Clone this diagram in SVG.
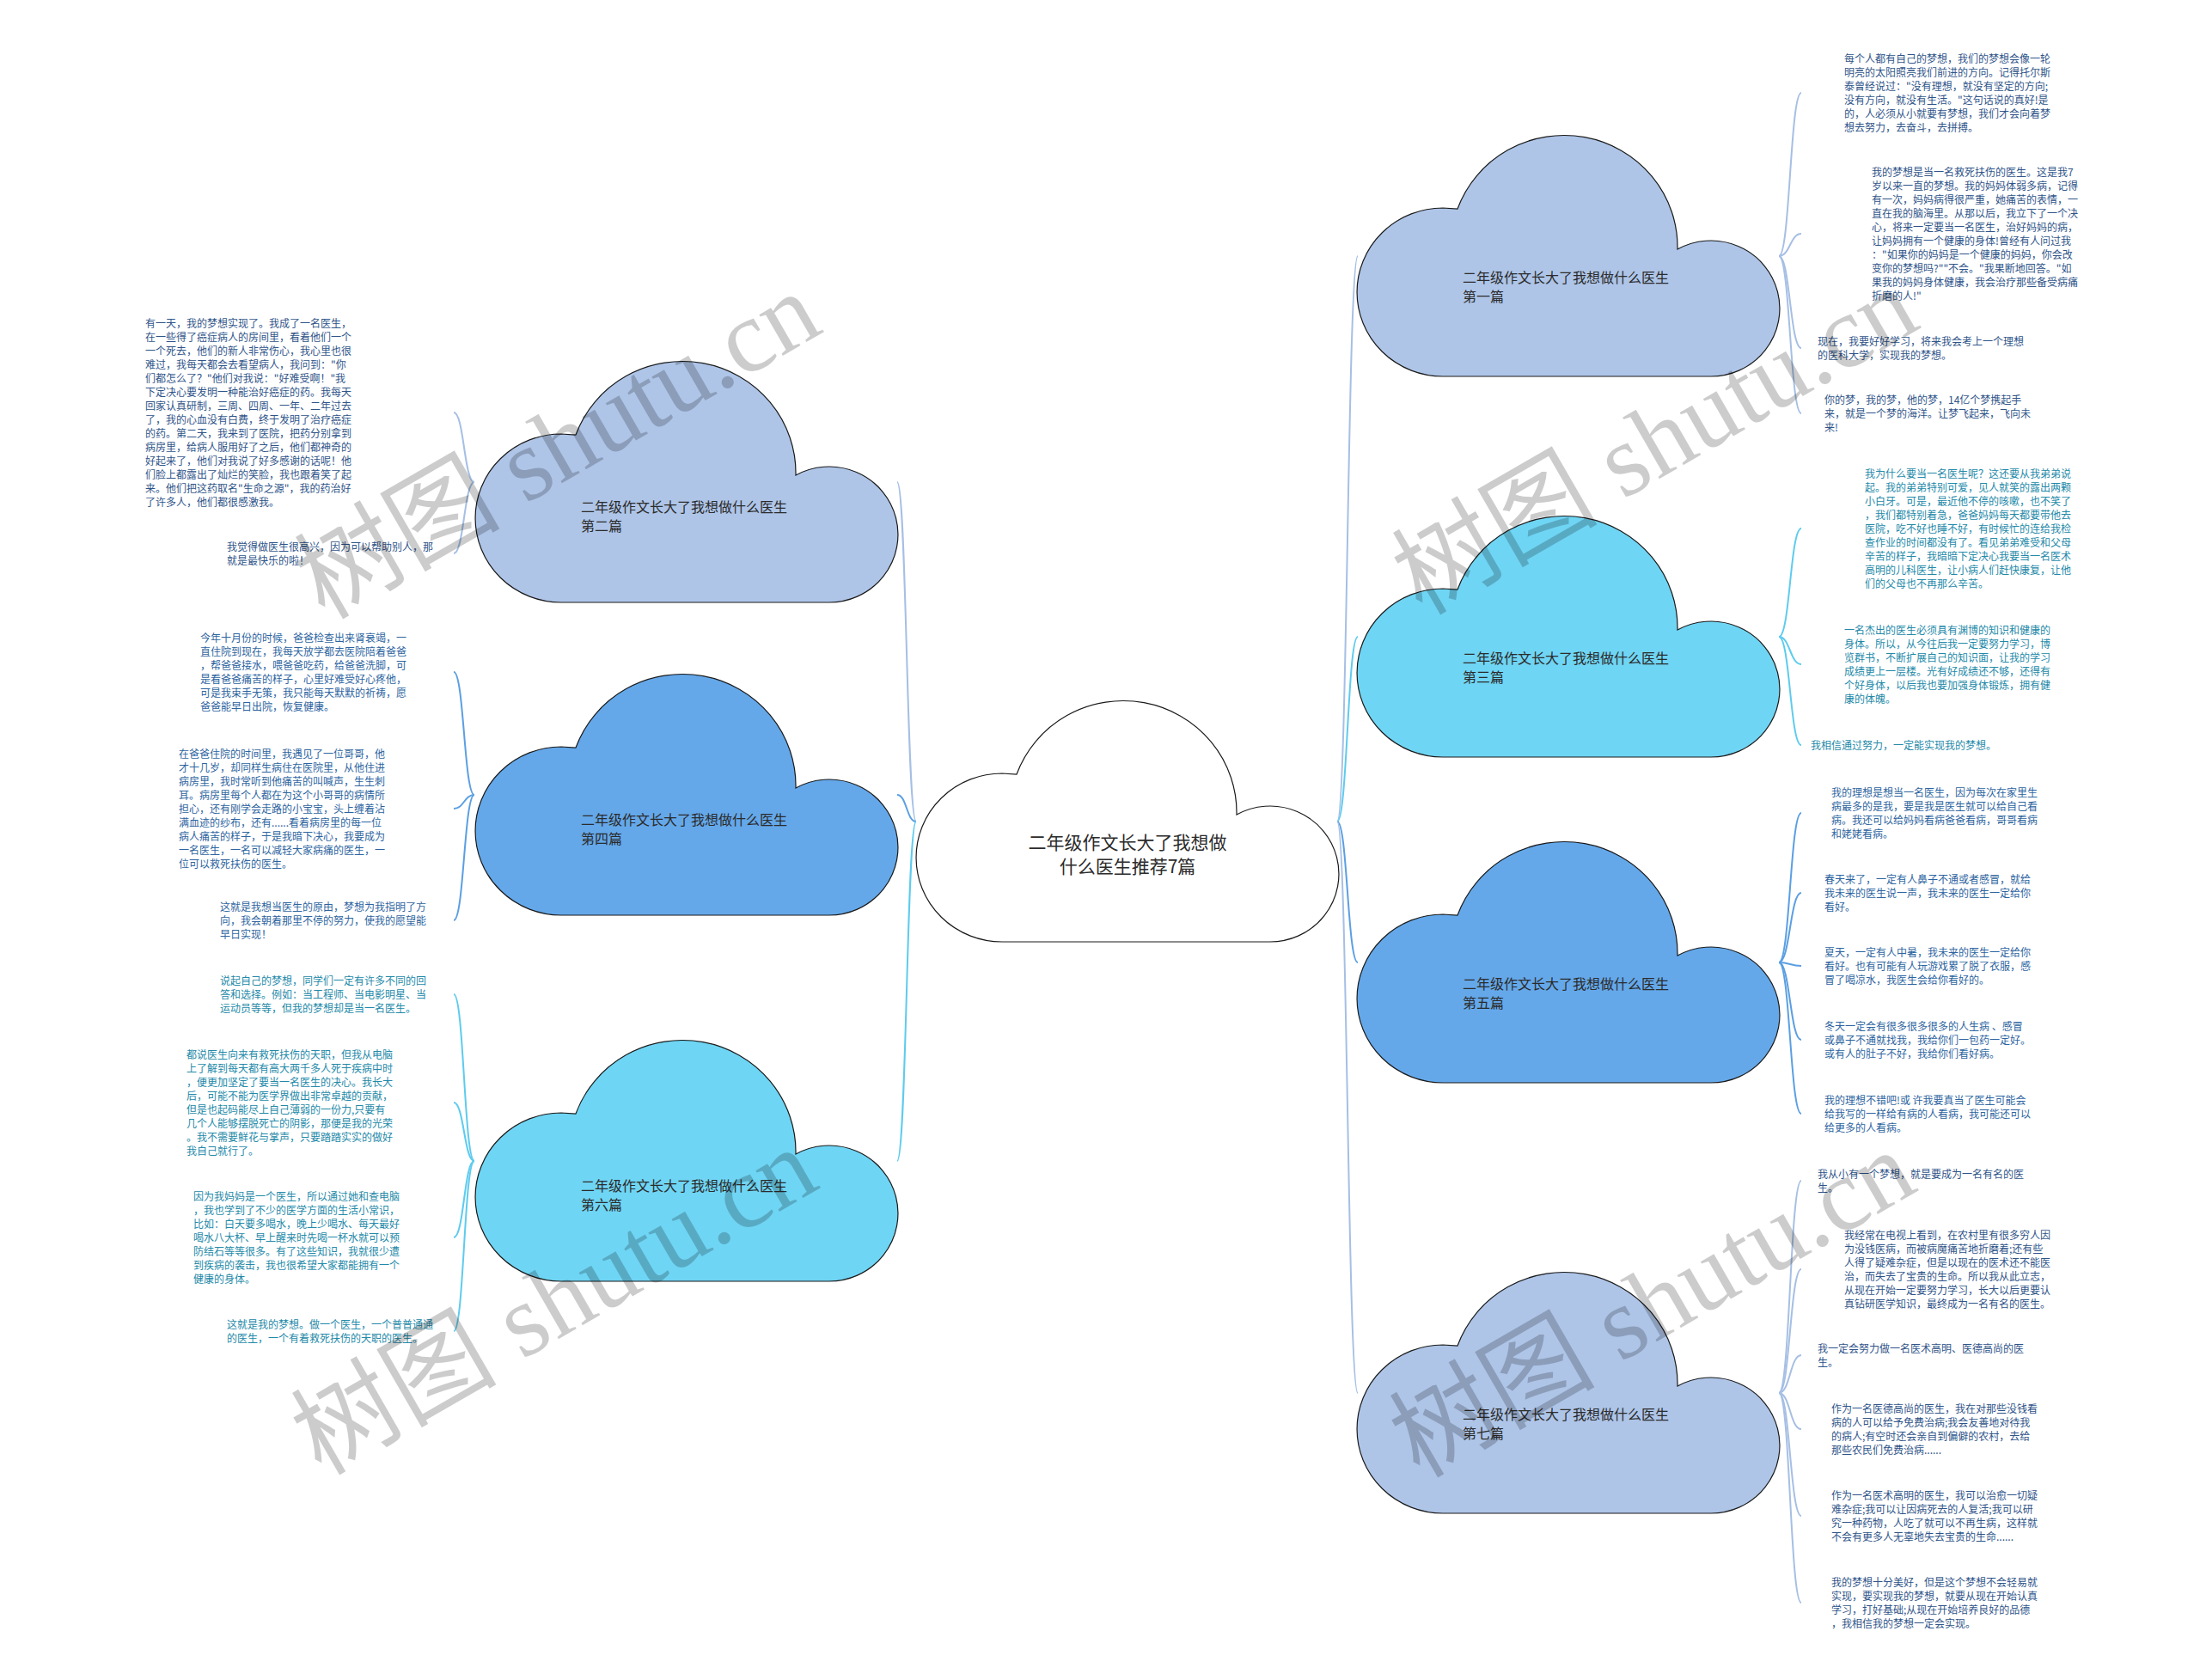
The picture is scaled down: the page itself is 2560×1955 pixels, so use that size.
<svg xmlns="http://www.w3.org/2000/svg" xmlns:xlink="http://www.w3.org/1999/xlink" width="2560" height="1955" viewBox="0 0 2560 1955">
<style>
.cl{stroke:#1a1a1a;stroke-width:1.2}
.fa{fill:#aec5e8}.fb{fill:#64a8ea}.fc{fill:#6fd5f4}.fw{fill:#ffffff}
.ct{font-family:"Noto Sans CJK SC","Noto Sans",sans-serif;font-size:16px;fill:#2b2b2b}
.cm{font-family:"Noto Sans CJK SC","Noto Sans",sans-serif;font-size:21px;fill:#2b2b2b;text-anchor:middle}
.tx{font-family:"Noto Sans CJK SC","Noto Sans",sans-serif;font-size:12px}
.ta{fill:#2f5489}.tb{fill:#2d64a0}.tc{fill:#2389a8}
.ln{fill:none;stroke-width:2}
.la{stroke:#a6bfe4}.lb{stroke:#5b9fe2}.lc{stroke:#5ecbee}
.wm{font-family:"Liberation Serif","Noto Sans CJK SC",serif;font-size:120px;fill:#000;fill-opacity:0.2;text-anchor:middle}
</style>
<defs>
<path id="cloud" d="M100,280 A100,98 0 0 1 100,84 L117,85 A132,130 0 0 1 373,132 A80,79 0 1 1 411,280 Z"/>
</defs>
<rect width="2560" height="1955" fill="#ffffff"/>
<g id="connectors">
<path class="ln la" d="M1066,956 C1055,956 1055,561 1044,561"/>
<path class="ln lb" d="M1066,956 C1055,956 1055,925 1044,925"/>
<path class="ln lc" d="M1066,956 C1055,956 1055,1351 1044,1351"/>
<path class="ln la" d="M1556,956 C1568,956 1568,298 1580,298"/>
<path class="ln lc" d="M1556,956 C1568,956 1568,741 1580,741"/>
<path class="ln lb" d="M1556,956 C1568,956 1568,1120 1580,1120"/>
<path class="ln la" d="M1556,956 C1568,956 1568,1621 1580,1621"/>
<path class="ln la" d="M552,561 C540,561 540,480 528,480"/>
<path class="ln la" d="M552,561 C540,561 540,644 528,644"/>
<path class="ln lb" d="M552,925 C540,925 540,782 528,782"/>
<path class="ln lb" d="M552,925 C540,925 540,941 528,941"/>
<path class="ln lb" d="M552,925 C540,925 540,1071 528,1071"/>
<path class="ln lc" d="M552,1351 C540,1351 540,1157 528,1157"/>
<path class="ln lc" d="M552,1351 C540,1351 540,1283 528,1283"/>
<path class="ln lc" d="M552,1351 C540,1351 540,1440 528,1440"/>
<path class="ln lc" d="M552,1351 C540,1351 540,1549 528,1549"/>
<path class="ln la" d="M2070,298 C2083,298 2083,108 2096,108"/>
<path class="ln la" d="M2070,298 C2083,298 2083,272 2096,272"/>
<path class="ln la" d="M2070,298 C2083,298 2083,405 2096,405"/>
<path class="ln la" d="M2070,298 C2083,298 2083,481 2096,481"/>
<path class="ln lc" d="M2070,741 C2083,741 2083,615 2096,615"/>
<path class="ln lc" d="M2070,741 C2083,741 2083,773 2096,773"/>
<path class="ln lc" d="M2070,741 C2083,741 2083,867 2096,867"/>
<path class="ln lb" d="M2070,1120 C2083,1120 2083,946 2096,946"/>
<path class="ln lb" d="M2070,1120 C2083,1120 2083,1039 2096,1039"/>
<path class="ln lb" d="M2070,1120 C2083,1120 2083,1124 2096,1124"/>
<path class="ln lb" d="M2070,1120 C2083,1120 2083,1210 2096,1210"/>
<path class="ln lb" d="M2070,1120 C2083,1120 2083,1296 2096,1296"/>
<path class="ln la" d="M2070,1621 C2083,1621 2083,1374 2096,1374"/>
<path class="ln la" d="M2070,1621 C2083,1621 2083,1477 2096,1477"/>
<path class="ln la" d="M2070,1621 C2083,1621 2083,1577 2096,1577"/>
<path class="ln la" d="M2070,1621 C2083,1621 2083,1663 2096,1663"/>
<path class="ln la" d="M2070,1621 C2083,1621 2083,1764 2096,1764"/>
<path class="ln la" d="M2070,1621 C2083,1621 2083,1865 2096,1865"/>
</g>
<g id="center">
<use xlink:href="#cloud" x="1066" y="816" class="cl fw"/>
<text class="cm" x="1312" y="988">二年级作文长大了我想做</text>
<text class="cm" x="1312" y="1016">什么医生推荐7篇</text>
</g>
<g id="topic1">
<use xlink:href="#cloud" x="1579" y="158" class="cl fa"/>
<text class="ct" x="1702" y="329">二年级作文长大了我想做什么医生</text>
<text class="ct" x="1702" y="351">第一篇</text>
</g>
<g id="topic2">
<use xlink:href="#cloud" x="553" y="421" class="cl fa"/>
<text class="ct" x="676" y="596">二年级作文长大了我想做什么医生</text>
<text class="ct" x="676" y="618">第二篇</text>
</g>
<g id="topic3">
<use xlink:href="#cloud" x="1579" y="601" class="cl fc"/>
<text class="ct" x="1702" y="772">二年级作文长大了我想做什么医生</text>
<text class="ct" x="1702" y="794">第三篇</text>
</g>
<g id="topic4">
<use xlink:href="#cloud" x="553" y="785" class="cl fb"/>
<text class="ct" x="676" y="960">二年级作文长大了我想做什么医生</text>
<text class="ct" x="676" y="982">第四篇</text>
</g>
<g id="topic5">
<use xlink:href="#cloud" x="1579" y="980" class="cl fb"/>
<text class="ct" x="1702" y="1151">二年级作文长大了我想做什么医生</text>
<text class="ct" x="1702" y="1173">第五篇</text>
</g>
<g id="topic6">
<use xlink:href="#cloud" x="553" y="1211" class="cl fc"/>
<text class="ct" x="676" y="1386">二年级作文长大了我想做什么医生</text>
<text class="ct" x="676" y="1408">第六篇</text>
</g>
<g id="topic7">
<use xlink:href="#cloud" x="1579" y="1481" class="cl fa"/>
<text class="ct" x="1702" y="1652">二年级作文长大了我想做什么医生</text>
<text class="ct" x="1702" y="1674">第七篇</text>
</g>
<g id="t2a"><text class="tx ta" x="169" y="381"><tspan x="169">有一天，我的梦想实现了。我成了一名医生，</tspan><tspan x="169" dy="16">在一些得了癌症病人的房间里，看着他们一个</tspan><tspan x="169" dy="16">一个死去，他们的新人非常伤心，我心里也很</tspan><tspan x="169" dy="16">难过，我每天都会去看望病人，我问到："你</tspan><tspan x="169" dy="16">们都怎么了？"他们对我说："好难受啊！"我</tspan><tspan x="169" dy="16">下定决心要发明一种能治好癌症的药。我每天</tspan><tspan x="169" dy="16">回家认真研制，三周、四周、一年、二年过去</tspan><tspan x="169" dy="16">了，我的心血没有白费，终于发明了治疗癌症</tspan><tspan x="169" dy="16">的药。第二天，我来到了医院，把药分别拿到</tspan><tspan x="169" dy="16">病房里，给病人服用好了之后，他们都神奇的</tspan><tspan x="169" dy="16">好起来了，他们对我说了好多感谢的话呢！他</tspan><tspan x="169" dy="16">们脸上都露出了灿烂的笑脸，我也跟着笑了起</tspan><tspan x="169" dy="16">来。他们把这药取名"生命之源"，我的药治好</tspan><tspan x="169" dy="16">了许多人，他们都很感激我。</tspan></text></g>
<g id="t2b"><text class="tx ta" x="264" y="641"><tspan x="264">我觉得做医生很高兴，因为可以帮助别人，那</tspan><tspan x="264" dy="16">就是最快乐的啦！</tspan></text></g>
<g id="t4a"><text class="tx tb" x="233" y="747"><tspan x="233">今年十月份的时候，爸爸检查出来肾衰竭，一</tspan><tspan x="233" dy="16">直住院到现在，我每天放学都去医院陪着爸爸</tspan><tspan x="233" dy="16">，帮爸爸接水，喂爸爸吃药，给爸爸洗脚，可</tspan><tspan x="233" dy="16">是看爸爸痛苦的样子，心里好难受好心疼他，</tspan><tspan x="233" dy="16">可是我束手无策，我只能每天默默的祈祷，愿</tspan><tspan x="233" dy="16">爸爸能早日出院，恢复健康。</tspan></text></g>
<g id="t4b"><text class="tx tb" x="208" y="882"><tspan x="208">在爸爸住院的时间里，我遇见了一位哥哥，他</tspan><tspan x="208" dy="16">才十几岁，却同样生病住在医院里，从他住进</tspan><tspan x="208" dy="16">病房里，我时常听到他痛苦的叫喊声，生生刺</tspan><tspan x="208" dy="16">耳。病房里每个人都在为这个小哥哥的病情所</tspan><tspan x="208" dy="16">担心，还有刚学会走路的小宝宝，头上缠着沾</tspan><tspan x="208" dy="16">满血迹的纱布，还有......看着病房里的每一位</tspan><tspan x="208" dy="16">病人痛苦的样子，于是我暗下决心，我要成为</tspan><tspan x="208" dy="16">一名医生，一名可以减轻大家病痛的医生，一</tspan><tspan x="208" dy="16">位可以救死扶伤的医生。</tspan></text></g>
<g id="t4c"><text class="tx tb" x="256" y="1060"><tspan x="256">这就是我想当医生的原由，梦想为我指明了方</tspan><tspan x="256" dy="16">向，我会朝着那里不停的努力，使我的愿望能</tspan><tspan x="256" dy="16">早日实现！</tspan></text></g>
<g id="t6a"><text class="tx tc" x="256" y="1146"><tspan x="256">说起自己的梦想，同学们一定有许多不同的回</tspan><tspan x="256" dy="16">答和选择。例如：当工程师、当电影明星、当</tspan><tspan x="256" dy="16">运动员等等，但我的梦想却是当一名医生。</tspan></text></g>
<g id="t6b"><text class="tx tc" x="217" y="1232"><tspan x="217">都说医生向来有救死扶伤的天职，但我从电脑</tspan><tspan x="217" dy="16">上了解到每天都有高大两千多人死于疾病中时</tspan><tspan x="217" dy="16">，便更加坚定了要当一名医生的决心。我长大</tspan><tspan x="217" dy="16">后，可能不能为医学界做出非常卓越的贡献，</tspan><tspan x="217" dy="16">但是也起码能尽上自己薄弱的一份力,只要有</tspan><tspan x="217" dy="16">几个人能够摆脱死亡的阴影，那便是我的光荣</tspan><tspan x="217" dy="16">。我不需要鲜花与掌声，只要踏踏实实的做好</tspan><tspan x="217" dy="16">我自己就行了。</tspan></text></g>
<g id="t6c"><text class="tx tc" x="225" y="1397"><tspan x="225">因为我妈妈是一个医生，所以通过她和查电脑</tspan><tspan x="225" dy="16">，我也学到了不少的医学方面的生活小常识，</tspan><tspan x="225" dy="16">比如：白天要多喝水，晚上少喝水、每天最好</tspan><tspan x="225" dy="16">喝水八大杯、早上醒来时先喝一杯水就可以预</tspan><tspan x="225" dy="16">防结石等等很多。有了这些知识，我就很少遭</tspan><tspan x="225" dy="16">到疾病的袭击，我也很希望大家都能拥有一个</tspan><tspan x="225" dy="16">健康的身体。</tspan></text></g>
<g id="t6d"><text class="tx tc" x="264" y="1546"><tspan x="264">这就是我的梦想。做一个医生，一个普普通通</tspan><tspan x="264" dy="16">的医生，一个有着救死扶伤的天职的医生。</tspan></text></g>
<g id="t1a"><text class="tx ta" x="2146" y="73"><tspan x="2146">每个人都有自己的梦想，我们的梦想会像一轮</tspan><tspan x="2146" dy="16">明亮的太阳照亮我们前进的方向。记得托尔斯</tspan><tspan x="2146" dy="16">泰曾经说过："没有理想，就没有坚定的方向;</tspan><tspan x="2146" dy="16">没有方向，就没有生活。"这句话说的真好!是</tspan><tspan x="2146" dy="16">的，人必须从小就要有梦想，我们才会向着梦</tspan><tspan x="2146" dy="16">想去努力，去奋斗，去拼搏。</tspan></text></g>
<g id="t1b"><text class="tx ta" x="2178" y="205"><tspan x="2178">我的梦想是当一名救死扶伤的医生。这是我7</tspan><tspan x="2178" dy="16">岁以来一直的梦想。我的妈妈体弱多病，记得</tspan><tspan x="2178" dy="16">有一次，妈妈病得很严重，她痛苦的表情，一</tspan><tspan x="2178" dy="16">直在我的脑海里。从那以后，我立下了一个决</tspan><tspan x="2178" dy="16">心，将来一定要当一名医生，治好妈妈的病，</tspan><tspan x="2178" dy="16">让妈妈拥有一个健康的身体!曾经有人问过我</tspan><tspan x="2178" dy="16">："如果你的妈妈是一个健康的妈妈，你会改</tspan><tspan x="2178" dy="16">变你的梦想吗?""不会。"我果断地回答。"如</tspan><tspan x="2178" dy="16">果我的妈妈身体健康，我会治疗那些备受病痛</tspan><tspan x="2178" dy="16">折磨的人!"</tspan></text></g>
<g id="t1c"><text class="tx ta" x="2115" y="402"><tspan x="2115">现在，我要好好学习，将来我会考上一个理想</tspan><tspan x="2115" dy="16">的医科大学，实现我的梦想。</tspan></text></g>
<g id="t1d"><text class="tx ta" x="2123" y="470"><tspan x="2123">你的梦，我的梦，他的梦，14亿个梦携起手</tspan><tspan x="2123" dy="16">来，就是一个梦的海洋。让梦飞起来，飞向未</tspan><tspan x="2123" dy="16">来!</tspan></text></g>
<g id="t3a"><text class="tx tc" x="2170" y="556"><tspan x="2170">我为什么要当一名医生呢？这还要从我弟弟说</tspan><tspan x="2170" dy="16">起。我的弟弟特别可爱，见人就笑的露出两颗</tspan><tspan x="2170" dy="16">小白牙。可是，最近他不停的咳嗽，也不笑了</tspan><tspan x="2170" dy="16">，我们都特别着急，爸爸妈妈每天都要带他去</tspan><tspan x="2170" dy="16">医院，吃不好也睡不好，有时候忙的连给我检</tspan><tspan x="2170" dy="16">查作业的时间都没有了。看见弟弟难受和父母</tspan><tspan x="2170" dy="16">辛苦的样子，我暗暗下定决心我要当一名医术</tspan><tspan x="2170" dy="16">高明的儿科医生，让小病人们赶快康复，让他</tspan><tspan x="2170" dy="16">们的父母也不再那么辛苦。</tspan></text></g>
<g id="t3b"><text class="tx tc" x="2146" y="738"><tspan x="2146">一名杰出的医生必须具有渊博的知识和健康的</tspan><tspan x="2146" dy="16">身体。所以，从今往后我一定要努力学习，博</tspan><tspan x="2146" dy="16">览群书，不断扩展自己的知识面，让我的学习</tspan><tspan x="2146" dy="16">成绩更上一层楼。光有好成绩还不够，还得有</tspan><tspan x="2146" dy="16">个好身体，以后我也要加强身体锻炼，拥有健</tspan><tspan x="2146" dy="16">康的体魄。</tspan></text></g>
<g id="t3c"><text class="tx tc" x="2107" y="872">我相信通过努力，一定能实现我的梦想。</text></g>
<g id="t5a"><text class="tx tb" x="2131" y="927"><tspan x="2131">我的理想是想当一名医生，因为每次在家里生</tspan><tspan x="2131" dy="16">病最多的是我，要是我是医生就可以给自己看</tspan><tspan x="2131" dy="16">病。我还可以给妈妈看病爸爸看病，哥哥看病</tspan><tspan x="2131" dy="16">和姥姥看病。</tspan></text></g>
<g id="t5b"><text class="tx tb" x="2123" y="1028"><tspan x="2123">春天来了，一定有人鼻子不通或者感冒，就给</tspan><tspan x="2123" dy="16">我未来的医生说一声，我未来的医生一定给你</tspan><tspan x="2123" dy="16">看好。</tspan></text></g>
<g id="t5c"><text class="tx tb" x="2123" y="1113"><tspan x="2123">夏天，一定有人中暑，我未来的医生一定给你</tspan><tspan x="2123" dy="16">看好。也有可能有人玩游戏累了脱了衣服，感</tspan><tspan x="2123" dy="16">冒了喝凉水，我医生会给你看好的。</tspan></text></g>
<g id="t5d"><text class="tx tb" x="2123" y="1199"><tspan x="2123">冬天一定会有很多很多很多的人生病 、感冒</tspan><tspan x="2123" dy="16">或鼻子不通就找我，我给你们一包药一定好。</tspan><tspan x="2123" dy="16">或有人的肚子不好，我给你们看好病。</tspan></text></g>
<g id="t5e"><text class="tx tb" x="2123" y="1285"><tspan x="2123">我的理想不错吧!或 许我要真当了医生可能会</tspan><tspan x="2123" dy="16">给我写的一样给有病的人看病，我可能还可以</tspan><tspan x="2123" dy="16">给更多的人看病。</tspan></text></g>
<g id="t7a"><text class="tx ta" x="2115" y="1371"><tspan x="2115">我从小有一个梦想，就是要成为一名有名的医</tspan><tspan x="2115" dy="16">生。</tspan></text></g>
<g id="t7b"><text class="tx ta" x="2146" y="1442"><tspan x="2146">我经常在电视上看到，在农村里有很多穷人因</tspan><tspan x="2146" dy="16">为没钱医病，而被病魔痛苦地折磨着;还有些</tspan><tspan x="2146" dy="16">人得了疑难杂症，但是以现在的医术还不能医</tspan><tspan x="2146" dy="16">治，而失去了宝贵的生命。所以我从此立志，</tspan><tspan x="2146" dy="16">从现在开始一定要努力学习，长大以后更要认</tspan><tspan x="2146" dy="16">真钻研医学知识，最终成为一名有名的医生。</tspan></text></g>
<g id="t7c"><text class="tx ta" x="2115" y="1574"><tspan x="2115">我一定会努力做一名医术高明、医德高尚的医</tspan><tspan x="2115" dy="16">生。</tspan></text></g>
<g id="t7d"><text class="tx ta" x="2131" y="1644"><tspan x="2131">作为一名医德高尚的医生，我在对那些没钱看</tspan><tspan x="2131" dy="16">病的人可以给予免费治病;我会友善地对待我</tspan><tspan x="2131" dy="16">的病人;有空时还会亲自到偏僻的农村，去给</tspan><tspan x="2131" dy="16">那些农民们免费治病......</tspan></text></g>
<g id="t7e"><text class="tx ta" x="2131" y="1745"><tspan x="2131">作为一名医术高明的医生，我可以治愈一切疑</tspan><tspan x="2131" dy="16">难杂症;我可以让因病死去的人复活;我可以研</tspan><tspan x="2131" dy="16">究一种药物，人吃了就可以不再生病，这样就</tspan><tspan x="2131" dy="16">不会有更多人无辜地失去宝贵的生命......</tspan></text></g>
<g id="t7f"><text class="tx ta" x="2131" y="1846"><tspan x="2131">我的梦想十分美好，但是这个梦想不会轻易就</tspan><tspan x="2131" dy="16">实现，要实现我的梦想，就要从现在开始认真</tspan><tspan x="2131" dy="16">学习，打好基础;从现在开始培养良好的品德</tspan><tspan x="2131" dy="16">，我相信我的梦想一定会实现。</tspan></text></g>
<g id="watermarks">
<text class="wm" transform="translate(649,519) rotate(-30)" y="40">树图 shutu.cn</text>
<text class="wm" transform="translate(1926,514) rotate(-30)" y="40">树图 shutu.cn</text>
<text class="wm" transform="translate(645,1515) rotate(-30)" y="40">树图 shutu.cn</text>
<text class="wm" transform="translate(1923,1518) rotate(-30)" y="40">树图 shutu.cn</text>
</g>
</svg>
